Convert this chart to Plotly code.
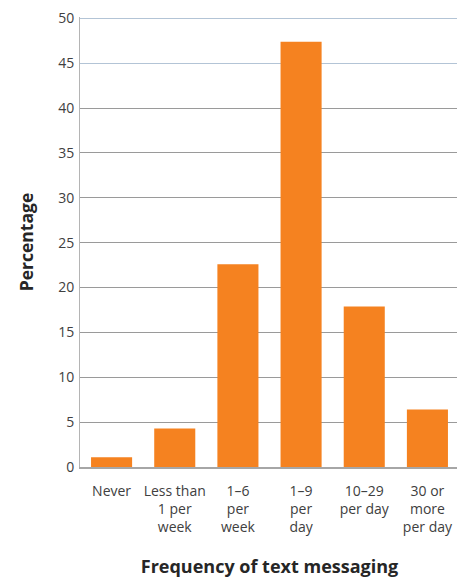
import plotly.graph_objects as go

categories = ["Never", "Less than<br>1 per<br>week", "1–6<br>per<br>week",
              "1–9<br>per<br>day", "10–29<br>per day", "30 or<br>more<br>per day"]
percentages = [1.1, 4.3, 22.6, 47.4, 17.9, 6.4]
y_ticks = [0, 5, 10, 15, 20, 25, 30, 35, 40, 45, 50]
grey_grid = [5, 10, 15, 20, 25, 30, 35, 40]
blue_grid = [45, 50]
y_range = [0, 50.15]

FONT = "Open Sans"
TXT = "#404040"

fig = go.Figure()
fig.add_trace(go.Bar(x=categories, y=percentages, marker_color="#F58220",
                     marker_line_width=0, showlegend=False, hoverinfo="skip"))
fig.add_trace(go.Scatter(x=[categories[0]], y=[0], yaxis="y2", mode="markers",
                         marker_opacity=0, showlegend=False, hoverinfo="skip"))
fig.add_trace(go.Scatter(x=[categories[0]], y=[0], yaxis="y3", mode="markers",
                         marker_opacity=0, showlegend=False, hoverinfo="skip"))

fig.update_layout(
    width=457, height=570,
    margin=dict(l=72, r=6, t=9, b=111),
    paper_bgcolor="white", plot_bgcolor="white",
    bargap=0.35,
    font=dict(family=FONT, size=14, color=TXT),
    xaxis=dict(
        automargin=False,
        showline=True, linecolor="#a6a6a6", linewidth=1.5,
        showgrid=False, ticks="outside", ticklen=10, tickcolor="rgba(0,0,0,0)",
        tickfont=dict(family=FONT, size=14, color=TXT),
        title=dict(text="<b>Frequency of text messaging</b>",
                   font=dict(family=FONT, size=18, color="#262626"), standoff=29),
    ),
    yaxis=dict(
        automargin=False, ticklabeloverflow="allow",
        range=y_range, tickvals=y_ticks, showgrid=False, zeroline=False,
        showline=True, linecolor="#b4b4b4", linewidth=1,
        ticks="outside", ticklen=2, tickcolor="rgba(0,0,0,0)",
        tickfont=dict(family=FONT, size=14, color=TXT),
        title=dict(text="<b>Percentage</b>",
                   font=dict(family=FONT, size=17.5, color="#262626"), standoff=20),
    ),
    yaxis2=dict(automargin=False, range=y_range, overlaying="y", tickvals=grey_grid,
                showticklabels=False, showgrid=True, gridcolor="#9a9a9a",
                gridwidth=1, zeroline=False, showline=False, layer="below traces"),
    yaxis3=dict(automargin=False, range=y_range, overlaying="y", tickvals=blue_grid,
                showticklabels=False, showgrid=True, gridcolor="#b3c4d6",
                gridwidth=1, zeroline=False, showline=False, layer="below traces"),
)

fig.write_html("out.html")
